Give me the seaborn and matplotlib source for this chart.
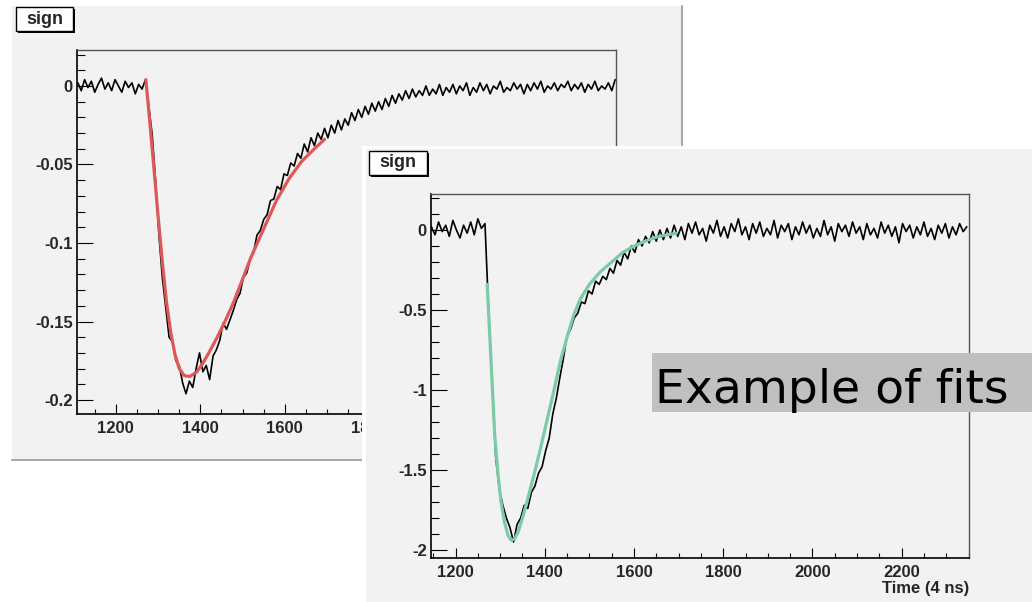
import numpy as np
import matplotlib
matplotlib.use("Agg")
import matplotlib.pyplot as plt
import seaborn as sns
from matplotlib.patches import Rectangle
from matplotlib.lines import Line2D
from matplotlib.ticker import MultipleLocator

# ------------------------------------------------------------
# data
# ------------------------------------------------------------

# panel 1 : histogram "sign", bins every 8 time units from 1110
sig1_time = np.arange(1110, 2383, 8)
sig1_val = [
    0.002, -0.003, 0.004, -0.001, 0.003, -0.004, 0.001, 0.005, -0.002, 0.002,
    -0.003, 0.004, 0.000, -0.004, 0.003, -0.001, 0.002, -0.005, 0.001, -0.002,
    0.004, -0.013, -0.031, -0.060, -0.095, -0.122, -0.141, -0.160, -0.163, -0.175,
    -0.178, -0.189, -0.196, -0.188, -0.192, -0.180, -0.170, -0.182, -0.178, -0.187,
    -0.172, -0.168, -0.162, -0.151, -0.155, -0.149, -0.143, -0.136, -0.132, -0.122,
    -0.119, -0.110, -0.106, -0.095, -0.092, -0.085, -0.082, -0.073, -0.072, -0.064,
    -0.066, -0.056, -0.057, -0.049, -0.051, -0.043, -0.046, -0.037, -0.042, -0.033,
    -0.038, -0.030, -0.034, -0.027, -0.033, -0.025, -0.030, -0.022, -0.028, -0.021,
    -0.025, -0.017, -0.022, -0.015, -0.020, -0.013, -0.018, -0.011, -0.016, -0.010,
    -0.015, -0.008, -0.013, -0.006, -0.011, -0.005, -0.009, -0.003, -0.008, -0.002,
    -0.007, -0.003, -0.006, 0.000, -0.006, -0.002, -0.005, 0.001, -0.006, -0.001,
    -0.004, 0.001, -0.005, 0.000, -0.003, 0.002, -0.006, -0.001, -0.004, 0.002,
    -0.003, 0.001, -0.005, 0.000, -0.002, 0.003, -0.004, -0.001, -0.003, 0.002,
    -0.002, 0.001, -0.005, 0.001, -0.003, 0.002, -0.002, 0.003, -0.004, 0.000,
    -0.002, 0.002, -0.003, 0.001, -0.001, 0.003, -0.003, 0.001, -0.002, 0.002,
    -0.004, 0.001, -0.002, 0.003, -0.003, 0.000, -0.002, 0.002, -0.003, 0.004,
]

fit1_time = [1271, 1280, 1290, 1300, 1310, 1320, 1330, 1340, 1350, 1362, 1375,
             1390, 1405, 1420, 1440, 1460, 1480, 1500, 1520, 1550, 1580, 1610,
             1640, 1670, 1694]
fit1_val = [0.004, -0.022, -0.052, -0.083, -0.112, -0.138, -0.157, -0.171,
            -0.180, -0.1845, -0.185, -0.1825, -0.177, -0.170, -0.160, -0.149,
            -0.137, -0.123, -0.109, -0.091, -0.073, -0.059, -0.048, -0.040,
            -0.034]

# panel 2 : histogram "sign", bins every 8 time units from 1146
sig2_time = np.arange(1146, 2347, 8)
sig2_val = [
    0.02, -0.03, 0.05, -0.01, 0.03, -0.04, 0.06, 0.00, -0.05, 0.03,
    -0.02, 0.05, -0.03, 0.07, 0.01, 0.04,
    -0.50, -0.95, -1.42, -1.62, -1.72, -1.80, -1.86, -1.95, -1.84, -1.80,
    -1.72, -1.74, -1.64, -1.60, -1.52, -1.48, -1.38, -1.30, -1.15, -1.05,
    -0.92, -0.80, -0.66, -0.62, -0.55, -0.52, -0.45, -0.46, -0.38, -0.40,
    -0.32, -0.34, -0.29, -0.31, -0.24, -0.27, -0.19, -0.22, -0.14, -0.18,
    -0.10, -0.14, -0.06, -0.10, -0.04, -0.08, -0.01, -0.07, 0.00, -0.06,
    0.01, -0.05, 0.03, -0.04, 0.02, -0.06, 0.04, -0.02, 0.05, -0.03,
    0.01, -0.07, 0.03, -0.02, 0.06, -0.04, 0.02, -0.05, 0.04, -0.01,
    0.07, -0.03, 0.02, -0.06, 0.04, -0.02, 0.05, -0.04, 0.01, -0.03,
    0.06, -0.05, 0.03, -0.01, 0.04, -0.06, 0.02, -0.03, 0.05, -0.02,
    0.03, -0.05, 0.01, -0.04, 0.06, -0.03, 0.02, -0.07, 0.04, -0.01,
    0.03, -0.04, 0.05, -0.02, 0.02, -0.06, 0.04, -0.03, 0.01, -0.05,
    0.05, -0.02, 0.03, -0.04, 0.02, -0.08, 0.04, -0.01, 0.03, -0.05,
    0.02, -0.03, 0.05, -0.04, 0.01, -0.06, 0.03, -0.02, 0.04, -0.05,
    0.02, -0.03, 0.04, -0.01, 0.02,
]

fit2_time = [1271, 1276, 1281, 1288, 1295, 1302, 1310, 1318, 1325, 1332, 1340,
             1350, 1360, 1375, 1390, 1405, 1420, 1435, 1450, 1465, 1480, 1500,
             1525, 1550, 1575, 1600, 1625, 1650, 1675, 1695]
fit2_val = [-0.34, -0.62, -0.90, -1.29, -1.52, -1.70, -1.83, -1.91, -1.94, -1.93,
            -1.89, -1.80, -1.70, -1.54, -1.37, -1.19, -1.01, -0.82, -0.67, -0.53,
            -0.43, -0.34, -0.26, -0.20, -0.14, -0.10, -0.07, -0.045, -0.03, -0.02]

ax1_yticks = [0, -0.05, -0.1, -0.15, -0.2]
ax1_ylabels = ["0", "-0.05", "-0.1", "-0.15", "-0.2"]
ax2_yticks = [0, -0.5, -1, -1.5, -2]
ax2_ylabels = ["0", "-0.5", "-1", "-1.5", "-2"]
ax1_xticks = [1200, 1400, 1600, 1800, 2000, 2200]
ax2_xticks = [1200, 1400, 1600, 1800, 2000, 2200]

assert len(sig1_val) == len(sig1_time)
assert len(sig2_val) == len(sig2_time)

# ------------------------------------------------------------
# figure
# ------------------------------------------------------------
sns.set_style("white")
plt.rcParams["font.family"] = ["Liberation Sans", "DejaVu Sans"]

W, H = 1032, 602
BG = "#f2f2f2"


def fx(px):
    return px / W


def fy(py):
    return 1 - py / H


fig = plt.figure(figsize=(W / 100, H / 100), dpi=100)

# back canvas
fig.add_artist(Rectangle((fx(12), fy(460)), fx(682) - fx(12), fy(6) - fy(460),
                         facecolor=BG, edgecolor="none", zorder=0.5))
fig.add_artist(Line2D([fx(12), fx(683)], [fy(460), fy(460)], color="#a8a8a8", lw=1.5, zorder=0.6))
fig.add_artist(Line2D([fx(682), fx(682)], [fy(6), fy(460)], color="#a8a8a8", lw=1.5, zorder=0.6))

# front canvas (white rim, then grey)
fig.add_artist(Rectangle((fx(362), 0), 1 - fx(362), fy(146), facecolor="white",
                         edgecolor="none", zorder=2))
fig.add_artist(Rectangle((fx(366), 0), 1 - fx(366), fy(149), facecolor=BG,
                         edgecolor="none", zorder=2.1))


def add_sign(x0, y0, x1, y1, z):
    fig.add_artist(Rectangle((fx(x0 + 2), fy(y1 + 2)), fx(x1) - fx(x0), fy(y0) - fy(y1),
                             facecolor="black", edgecolor="none", zorder=z))
    fig.add_artist(Rectangle((fx(x0), fy(y1)), fx(x1) - fx(x0), fy(y0) - fy(y1),
                             facecolor="white", edgecolor="black", lw=1.0, zorder=z + 0.01))
    fig.text(fx((x0 + x1) / 2), fy((y0 + y1) / 2), "sign", ha="center", va="center",
             fontsize=13, fontweight="bold", zorder=z + 0.02)


def style_axes(ax, xlim, ylim, xticks, yticks, ylabels, yminor):
    ax.set_xlim(*xlim)
    ax.set_ylim(*ylim)
    ax.set_facecolor(BG)
    ax.set_xlabel("")
    ax.set_ylabel("")
    for s in ["left", "bottom"]:
        ax.spines[s].set_color("black")
        ax.spines[s].set_linewidth(1.2)
    for s in ["top", "right"]:
        ax.spines[s].set_color("#555555")
        ax.spines[s].set_linewidth(1.0)
    ax.set_xticks(xticks, [str(t) for t in xticks], fontsize=12, fontweight="bold")
    ax.set_yticks(yticks, ylabels, fontsize=12, fontweight="bold")
    ax.xaxis.set_minor_locator(MultipleLocator(50))
    ax.yaxis.set_minor_locator(MultipleLocator(yminor))
    ax.tick_params(which="both", direction="in", top=False, right=False,
                   bottom=True, left=True, color="black", width=0.8)
    ax.tick_params(axis="y", which="major", length=11.5, pad=3)
    ax.tick_params(axis="y", which="minor", length=5.8)
    ax.tick_params(axis="x", which="major", length=7.2, pad=5)
    ax.tick_params(axis="x", which="minor", length=3.6)


# panel 1
ax1 = fig.add_axes([fx(77), fy(414), (616 - 77) / W, (414 - 50) / H], zorder=1)
sns.lineplot(x=sig1_time, y=sig1_val, ax=ax1, color="black", linewidth=1.2,
             estimator=None, sort=False, legend=False)
sns.lineplot(x=fit1_time, y=fit1_val, ax=ax1, color="#dd5858", linewidth=2.3,
             estimator=None, sort=False, legend=False)
style_axes(ax1, (1108, 2384), (-0.2089, 0.0229), ax1_xticks, ax1_yticks, ax1_ylabels, 0.01)
add_sign(16, 7, 73, 31, 1.5)

# panel 2
ax2 = fig.add_axes([fx(431), fy(558), (969 - 431) / W, (558 - 194) / H], zorder=3)
sns.lineplot(x=sig2_time, y=sig2_val, ax=ax2, color="black", linewidth=1.2,
             estimator=None, sort=False, legend=False)
sns.lineplot(x=fit2_time, y=fit2_val, ax=ax2, color="#7ccaa6", linewidth=2.3,
             estimator=None, sort=False, legend=False)
style_axes(ax2, (1145, 2351), (-2.05, 0.225), ax2_xticks, ax2_yticks, ax2_ylabels, 0.1)
add_sign(369, 151, 427, 175, 3.5)

fig.text(fx(969), fy(588), "Time (4 ns)", ha="right", va="center",
         fontsize=12, fontweight="bold", zorder=4)

# "Example of fits" label
fig.add_artist(Rectangle((fx(652), fy(412)), 1 - fx(652), fy(353) - fy(412),
                         facecolor="#c0c0c0", edgecolor="none", zorder=5))
fig.text(fx(655), fy(403), "Example of fits", ha="left", va="baseline",
         fontsize=34, family="DejaVu Sans", color="black", zorder=6)

fig.savefig("out.png", dpi=100)
